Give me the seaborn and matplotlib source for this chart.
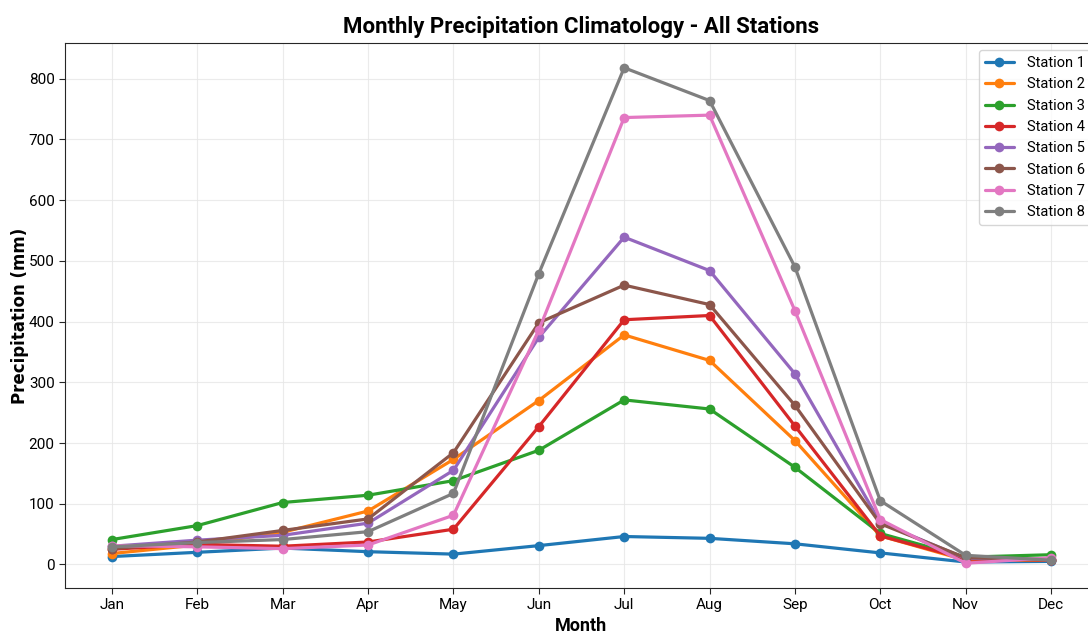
import matplotlib
matplotlib.use("Agg")
import matplotlib.pyplot as plt
import seaborn as sns
import pandas as pd

months = ["Jan", "Feb", "Mar", "Apr", "May", "Jun", "Jul", "Aug", "Sep", "Oct", "Nov", "Dec"]
station_1 = [13, 20, 27, 21, 17, 31, 46, 43, 34, 19, 4, 5]
station_2 = [18, 32, 53, 88, 173, 270, 378, 336, 204, 47, 7, 7]
station_3 = [41, 64, 102, 114, 138, 188, 271, 256, 160, 51, 12, 16]
station_4 = [25, 33, 30, 37, 58, 227, 403, 410, 228, 47, 9, 7]
station_5 = [30, 40, 48, 68, 155, 374, 539, 484, 314, 69, 10, 8]
station_6 = [26, 37, 56, 75, 184, 398, 460, 428, 262, 67, 11, 8]
station_7 = [31, 29, 26, 32, 81, 386, 736, 740, 418, 74, 2, 11]
station_8 = [29, 36, 41, 54, 117, 479, 818, 764, 490, 105, 15, 7]
station_names = ["Station 1", "Station 2", "Station 3", "Station 4",
                 "Station 5", "Station 6", "Station 7", "Station 8"]
series = [station_1, station_2, station_3, station_4,
          station_5, station_6, station_7, station_8]

sns.set_style("whitegrid", {"axes.edgecolor": ".15", "xtick.bottom": True,
                            "ytick.left": True, "grid.color": ".9"})
plt.rcParams["font.family"] = ["Roboto", "DejaVu Sans"]
plt.rcParams["text.color"] = "black"
plt.rcParams["axes.labelcolor"] = "black"
plt.rcParams["xtick.color"] = "black"
plt.rcParams["ytick.color"] = "black"

fig = plt.figure(figsize=(10.88, 6.34), dpi=100)
ax = fig.add_axes([65 / 1088, 46 / 634, 1033 / 1088, 545 / 634])

palette = sns.color_palette("tab10", len(series))
for name, vals, col in zip(station_names, series, palette):
    df = pd.DataFrame({"Month": months, "Precipitation": vals})
    sns.lineplot(data=df, x="Month", y="Precipitation", ax=ax, color=col,
                 label=name, marker="o", markersize=7, linewidth=2.3,
                 markeredgewidth=0, sort=False)

ax.set_title("Monthly Precipitation Climatology - All Stations",
             fontsize=16, fontweight="bold", pad=7)
ax.set_xlabel("Month", fontsize=13, fontweight="bold", labelpad=3)
ax.set_ylabel("Precipitation (mm)", fontsize=12, fontweight="bold",
              family="DejaVu Sans", labelpad=0)
ax.tick_params(labelsize=11, length=4, color=".15")
ax.grid(True, alpha=0.8)
ax.legend(loc="upper right", fontsize=10.5, frameon=True, handlelength=2.0,
          handletextpad=0.9)

fig.savefig("out.png", dpi=100)
